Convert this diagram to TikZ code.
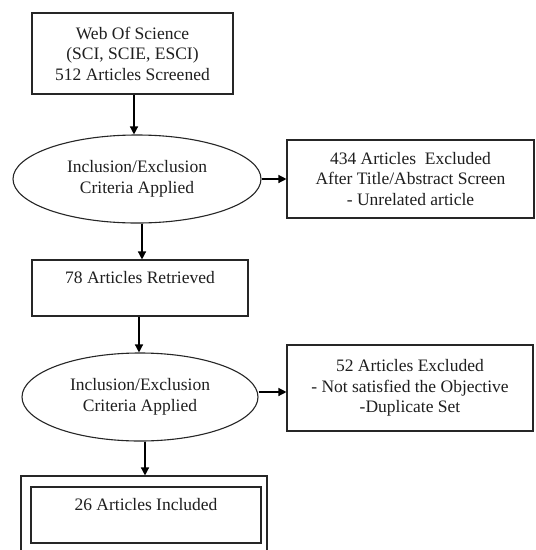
\documentclass[tikz,border=0pt]{standalone}
\usepackage{fontspec}
\setmainfont{Liberation Serif}
\usetikzlibrary{arrows.meta,shapes.geometric}
\tikzset{
  txt/.style={font=\fontsize{17.5}{20.5}\selectfont, align=center, text=black!88},
  boxnode/.style={txt, draw=black!85, line width=1.1pt, rectangle, inner sep=0pt},
  ellnode/.style={txt, draw=black!85, line width=1.1pt, ellipse, inner sep=0pt},
  arr/.style={line width=1.3pt, draw=black, -{Triangle[length=8pt,width=8pt]}}
}
\begin{document}
\begin{tikzpicture}[x=1pt,y=-1pt]
\path[use as bounding box, fill=white] (0,0) rectangle (536,550);

\node[boxnode, minimum width=201pt, minimum height=81pt] (b1) at (132.5,53.5)
  {Web Of Science\\(SCI, SCIE, ESCI)\\512 Articles Screened};
\node[ellnode, minimum width=248pt, minimum height=88pt] (e1) at (137,179)
  {Inclusion/Exclusion\\Criteria Applied};
\node[boxnode, minimum width=247pt, minimum height=78pt] (b2) at (410.5,179)
  {434 Articles\ \ Excluded\\After Title/Abstract Screen\\- Unrelated article};
\node[boxnode, minimum width=216pt, minimum height=56pt] (b3) at (140,288)
  {78 Articles Retrieved\\\mbox{}};
\node[ellnode, minimum width=236pt, minimum height=88pt] (e2) at (140,397)
  {Inclusion/Exclusion\\Criteria Applied};
\node[boxnode, minimum width=246pt, minimum height=86pt] (b4) at (410,388)
  {52 Articles Excluded\\- Not satisfied the Objective\\-Duplicate Set};
\begin{scope}
\clip (0,0) rectangle (536,550);
\node[boxnode, minimum width=246pt, minimum height=100pt] (b5) at (144,526) {};
\end{scope}
\node[boxnode, minimum width=230pt, minimum height=56pt] (b6) at (146,515)
  {26 Articles Included\\\mbox{}};

\draw[arr] ([xshift=1.5pt]b1.south) -- ([xshift=1.5pt]b1.south |- e1.north);
\draw[arr] (e1.east) -- (b2.west);
\draw[arr] ([xshift=5pt]e1.south) -- ([xshift=5pt]e1.south |- b3.north);
\draw[arr] ([xshift=-1pt]b3.south) -- ([xshift=-1pt]b3.south |- e2.north);
\draw[arr] ([yshift=5pt]e2.east) -- ([yshift=5pt]e2.east -| b4.west);
\draw[arr] ([xshift=5pt]e2.south) -- ([xshift=5pt]e2.south |- b5.north);
\end{tikzpicture}
\end{document}
